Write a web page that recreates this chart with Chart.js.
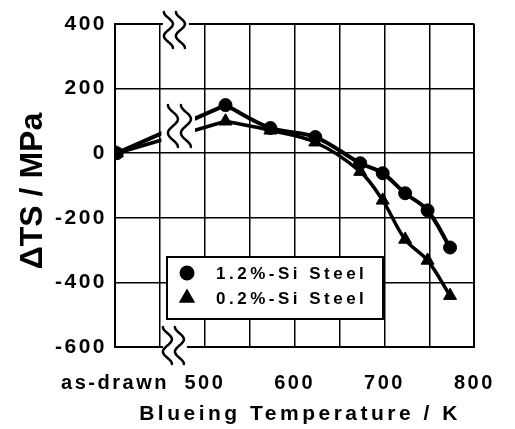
<!DOCTYPE html>
<html>
<head>
<meta charset="utf-8">
<script src="https://cdn.jsdelivr.net/npm/chart.js@4"></script>
<style>
  html, body { margin: 0; padding: 0; background: #fff; }
  #wrap { width: 515px; height: 429px; }
</style>
</head>
<body>
<div id="wrap"><canvas id="chart" width="515" height="429"></canvas></div>
<script>
// blueing temperature in K, first entry is the as-drawn wire (drawn left of the axis break)
const temps = [402, 523, 573, 623, 673, 698, 723, 748, 773];
const si12 = [0, 149, 78, 50, -31, -62, -124, -177, -292];
const si02 = [0, 99, 71, 34, -57, -146, -267, -332, -441];
const seriesNames = ['1.2%-Si Steel', '0.2%-Si Steel'];
const xTickValues = [400, 500, 600, 700, 800];
const xTickLabels = ['as-drawn', '500', '600', '700', '800'];
const yTicks = [-600, -400, -200, 0, 200, 400];

const FONT = '"Liberation Sans", Arial, sans-serif';

const pts = (ys) => temps.map((t, i) => ({ x: t, y: ys[i] }));
const p12 = pts(si12);
const p02 = pts(si02);

function lineSet(data, width, tension) {
  return {
    data, showLine: true, tension, borderColor: '#000', borderWidth: width,
    pointRadius: 0, pointHoverRadius: 0, fill: false, order: 2,
  };
}

function markerSet(label, data, style, r) {
  return {
    label, data, showLine: false, pointStyle: style, pointRadius: r,
    backgroundColor: '#000', borderColor: '#000', borderWidth: 1, order: 1,
  };
}

function squiggle(ctx, x0, top, h, amp) {
  ctx.beginPath();
  for (let i = 0; i <= 40; i++) {
    const t = i / 40;
    const x = x0 + amp * (1 - Math.cos(3 * Math.PI * t)) / 2;
    const y = top + h * t;
    if (i === 0) ctx.moveTo(x, y); else ctx.lineTo(x, y);
  }
  ctx.stroke();
}

const breakPlugin = {
  id: 'breaks',
  beforeDraw(chart) {
    chart.ctx.letterSpacing = '2.5px';
  },
  afterDatasetsDraw(chart) {
    const ctx = chart.ctx;
    const xs = chart.scales.x;
    const b0 = xs.getPixelForValue(450);
    const b1 = xs.getPixelForValue(489);
    ctx.save();
    ctx.fillStyle = '#fff';
    // gap in the curves
    ctx.fillRect(b0 + 1.5, 96, b1 - b0 - 1.5, 54);
    // gaps in top / bottom frame
    const a = chart.chartArea;
    ctx.fillRect(b0 + 3, a.top - 4, 26, 8);
    ctx.fillRect(b0 + 3, a.bottom - 4, 24, 8);
    ctx.strokeStyle = '#000';
    ctx.lineWidth = 2.5;
    ctx.lineCap = 'round';
    squiggle(ctx, b0 + 4, 12, 36, 9);
    squiggle(ctx, b0 + 16, 12, 36, 9);
    squiggle(ctx, b0 + 8, 105, 42, 10);
    squiggle(ctx, b0 + 21, 105, 42, 10);
    squiggle(ctx, b0 + 3, 327, 37, 9);
    squiggle(ctx, b0 + 15, 327, 37, 9);
    ctx.restore();

    // legend box
    ctx.save();
    ctx.fillStyle = '#fff';
    ctx.fillRect(167, 257, 216, 62);
    ctx.strokeStyle = '#000';
    ctx.lineWidth = 2;
    ctx.strokeRect(167, 257, 216, 62);
    const markers = chart.data.datasets.filter(d => d.label);
    markers.forEach((d, i) => {
      const cy = 273 + i * 25;
      Chart.helpers.drawPoint(ctx, { pointStyle: d.pointStyle, radius: d.pointRadius, borderWidth: 1 }, 187, cy);
      ctx.fillStyle = '#000';
      ctx.fill();
      ctx.letterSpacing = '3.5px';
      ctx.font = 'bold 17px ' + FONT;
      ctx.textAlign = 'left';
      ctx.textBaseline = 'middle';
      ctx.fillText(d.label, 216, cy + 1);
    });
    ctx.restore();
  },
  afterDraw(chart) {
    const ctx = chart.ctx;
    ctx.save();
    ctx.fillStyle = '#000';
    ctx.letterSpacing = '3.5px';
    ctx.font = 'bold 21px ' + FONT;
    ctx.textAlign = 'center';
    ctx.textBaseline = 'alphabetic';
    ctx.fillText('Blueing Temperature / K', 300, 420);
    ctx.letterSpacing = '0px';
    ctx.translate(42, 191);
    ctx.rotate(-Math.PI / 2);
    ctx.font = 'bold 32px ' + FONT;
    ctx.fillText('\u0394TS / MPa', 0, 0);
    ctx.restore();
  },
};

const edgeWidth = (c) => (c.index === 0 || c.index === c.scale.ticks.length - 1) ? 2 : 1.5;

new Chart(document.getElementById('chart'), {
  type: 'scatter',
  data: {
    datasets: [
      lineSet(p12.slice(0, 2), 4, 0),
      lineSet(p12.slice(1), 4, 0.35),
      lineSet(p02.slice(0, 2), 3.5, 0),
      lineSet(p02.slice(1), 3.5, 0.35),
      markerSet(seriesNames[0], p12, 'circle', 6.5),
      markerSet(seriesNames[1], p02, 'triangle', 7.5),
    ],
  },
  options: {
    responsive: false,
    animation: false,
    devicePixelRatio: 1,
    layout: { padding: { top: 24, right: 35, left: 0, bottom: 0 } },
    plugins: { legend: { display: false }, tooltip: { enabled: false } },
    scales: {
      x: {
        type: 'linear', min: 400, max: 800,
        afterFit: (s) => { s.height = 82; },
        ticks: {
          stepSize: 50, autoSkip: false, maxRotation: 0, padding: 24,
          color: '#000', font: { family: FONT, size: 20, weight: 'bold' },
          callback: (v) => {
            const i = xTickValues.indexOf(v);
            return i >= 0 ? xTickLabels[i] : '';
          },
        },
        grid: { color: '#000', lineWidth: edgeWidth, drawTicks: false },
        border: { display: true, color: '#000', width: 2 },
      },
      y: {
        min: yTicks[0], max: yTicks[yTicks.length - 1],
        afterFit: (s) => { s.width = 115; },
        ticks: {
          stepSize: 200, padding: 8,
          color: '#000', font: { family: FONT, size: 21, weight: 'bold' },
        },
        grid: { color: '#000', lineWidth: edgeWidth, drawTicks: false },
        border: { display: true, color: '#000', width: 2 },
      },
    },
  },
  plugins: [breakPlugin],
});
</script>
</body>
</html>
